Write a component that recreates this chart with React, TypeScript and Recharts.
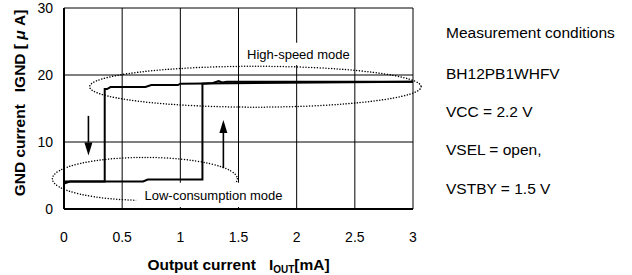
import React from 'react';
import {
  LineChart,
  Line,
  XAxis,
  YAxis,
  CartesianGrid,
  ReferenceArea,
  ReferenceLine,
  Label,
} from 'recharts';

// Axis ticks
const xTicks = [0, 0.5, 1, 1.5, 2, 2.5, 3];
const yTicks = [0, 10, 20, 30];

// Rising branch: low-consumption mode -> high-speed mode (IOUT increasing)
const risingX = [0, 0.05, 0.68, 0.72, 1.19, 1.19, 1.28, 1.33, 1.36, 1.4, 3];
const risingY = [3.8, 4.1, 4.1, 4.4, 4.4, 18.7, 18.8, 19.1, 18.9, 19.0, 19.0];

// Falling branch: high-speed mode -> low-consumption mode (IOUT decreasing)
const fallingX = [3, 1.0, 0.98, 0.75, 0.7, 0.4, 0.37, 0.35, 0.35, 0];
const fallingY = [19.0, 18.7, 18.5, 18.5, 18.2, 18.2, 17.9, 17.9, 4.1, 4.1];

// Annotation ellipses (data-space bounding boxes)
const highEllipse = { x1: 0.22, x2: 3.07, y1: 15.2, y2: 21.3 };
const lowEllipse = { x1: -0.1, x2: 1.49, y1: 1.3, y2: 7.7 };

// Arrows (data-space)
const downArrow = [{ x: 0.21, y: 13.9 }, { x: 0.21, y: 8.0 }];
const upArrow = [{ x: 1.37, y: 6.1 }, { x: 1.37, y: 13.3 }];

// Label boxes
const highLabelBox = { x1: 1.56, x2: 2.47, y1: 21.5, y2: 24.8, text: 'High-speed mode' };
const lowLabelBox = { x1: 0.62, x2: 1.95, y1: 0.3, y2: 3.9, text: 'Low-consumption mode' };

const conditions = [
  'Measurement conditions',
  'BH12PB1WHFV',
  'VCC = 2.2 V',
  'VSEL = open,',
  'VSTBY = 1.5 V',
];
const conditionCenters = [33, 74, 112, 150, 189];

const rising = risingX.map((x, i) => ({ x, y: risingY[i] }));
const falling = fallingX.map((x, i) => ({ x, y: fallingY[i] }));

const FONT = '"Liberation Sans", Arial, Helvetica, sans-serif';

const EllipseShape = (p: any) => {
  const { x, y, width, height } = p;
  return (
    <ellipse
      cx={x + width / 2}
      cy={y + height / 2}
      rx={Math.abs(width) / 2}
      ry={Math.abs(height) / 2}
      fill="none"
      stroke="#000"
      strokeWidth={1.5}
      strokeDasharray="0.01 2.8"
      strokeLinecap="round"
    />
  );
};

const ArrowShape = (p: any) => {
  const { x1, y1, x2, y2 } = p;
  const dir = y2 > y1 ? 1 : -1;
  const headLen = 13;
  const halfW = 4;
  return (
    <g>
      <line x1={x1} y1={y1} x2={x2} y2={y2 - dir * headLen} stroke="#000" strokeWidth={1.6} />
      <polygon
        points={`${x2},${y2} ${x2 - halfW},${y2 - dir * headLen} ${x2 + halfW},${y2 - dir * headLen}`}
        fill="#000"
      />
    </g>
  );
};

const XTitle = (props: any) => {
  const vb = props.viewBox || {};
  const cx = vb.x + vb.width / 2;
  const y = vb.y + 61;
  return (
    <text x={cx} y={y} textAnchor="middle" fontSize={15.5} fontWeight="bold" fill="#000" fontFamily={FONT}>
      <tspan>Output current</tspan>
      <tspan dx={13}>I</tspan>
      <tspan fontSize={10} dy={3}>OUT</tspan>
      <tspan dy={-3}>[mA]</tspan>
    </text>
  );
};

const YTitle = () => {
  const x = 25;
  const y = 103;
  return (
    <text
      x={x}
      y={y}
      textAnchor="middle"
      fontSize={15.5}
      fontWeight="bold"
      fill="#000"
      fontFamily={FONT}
      transform={`rotate(-90, ${x}, ${y})`}
    >
      <tspan>GND current</tspan>
      <tspan dx={12}>IGND [ </tspan>
      <tspan fontStyle="italic">μ</tspan>
      <tspan> A]</tspan>
    </text>
  );
};

export default function App() {
  return (
    <div style={{ position: 'absolute', left: 0, top: 0, width: 632, height: 275, background: '#fff', fontFamily: FONT }}>
      <LineChart
        width={632}
        height={275}
        margin={{ top: 8, right: 219, bottom: 0, left: 0 }}
        style={{ fontFamily: FONT }}
      >
        <CartesianGrid stroke="#000" strokeWidth={1} />
        <XAxis
          type="number"
          dataKey="x"
          domain={[0, 3]}
          ticks={xTicks}
          tickFormatter={(v: number) => String(v)}
          height={66}
          tickLine={false}
          tickSize={0}
          tickMargin={23}
          axisLine={{ stroke: '#000', strokeWidth: 2 }}
          tick={{ fill: '#000', fontSize: 14, fontFamily: FONT }}
          allowDataOverflow
        >
          <Label content={XTitle} />
        </XAxis>
        <YAxis
          type="number"
          domain={[0, 30]}
          ticks={yTicks}
          width={64}
          tickLine={false}
          tickSize={0}
          tickMargin={11}
          axisLine={{ stroke: '#000', strokeWidth: 2 }}
          tick={{ fill: '#000', fontSize: 14, fontFamily: FONT }}
          allowDataOverflow
        >
          <Label content={YTitle} />
        </YAxis>
        <ReferenceArea
          x1={highEllipse.x1}
          x2={highEllipse.x2}
          y1={highEllipse.y1}
          y2={highEllipse.y2}
          ifOverflow="visible"
          shape={EllipseShape}
        />
        <ReferenceArea
          x1={lowEllipse.x1}
          x2={lowEllipse.x2}
          y1={lowEllipse.y1}
          y2={lowEllipse.y2}
          ifOverflow="visible"
          shape={EllipseShape}
        />
        <ReferenceArea
          x1={highLabelBox.x1}
          x2={highLabelBox.x2}
          y1={highLabelBox.y1}
          y2={highLabelBox.y2}
          fill="#fff"
          fillOpacity={1}
          stroke="none"
          ifOverflow="visible"
        >
          <Label value={highLabelBox.text} position="center" fontSize={13} fill="#000" fontFamily={FONT} />
        </ReferenceArea>
        <ReferenceArea
          x1={lowLabelBox.x1}
          x2={lowLabelBox.x2}
          y1={lowLabelBox.y1}
          y2={lowLabelBox.y2}
          fill="#fff"
          fillOpacity={1}
          stroke="none"
          ifOverflow="visible"
        >
          <Label value={lowLabelBox.text} position="center" fontSize={13} fill="#000" fontFamily={FONT} />
        </ReferenceArea>
        <ReferenceLine segment={downArrow} shape={ArrowShape} ifOverflow="visible" />
        <ReferenceLine segment={upArrow} shape={ArrowShape} ifOverflow="visible" />
        <Line
          data={rising}
          dataKey="y"
          type="linear"
          stroke="#000"
          strokeWidth={2}
          dot={false}
          isAnimationActive={false}
        />
        <Line
          data={falling}
          dataKey="y"
          type="linear"
          stroke="#000"
          strokeWidth={2}
          dot={false}
          isAnimationActive={false}
        />
      </LineChart>
      {conditions.map((t, i) => (
        <div
          key={t}
          style={{
            position: 'absolute',
            left: 446,
            top: conditionCenters[i] - 9,
            height: 18,
            lineHeight: '18px',
            fontSize: 15.5,
            color: '#000',
            whiteSpace: 'nowrap',
            fontFamily: FONT,
          }}
        >
          {t}
        </div>
      ))}
    </div>
  );
}
